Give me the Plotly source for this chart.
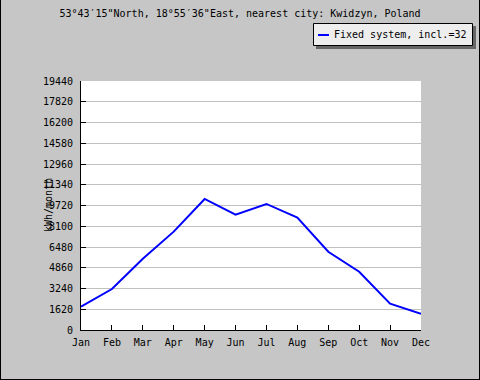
import plotly.graph_objects as go

months = ["Jan", "Feb", "Mar", "Apr", "May", "Jun", "Jul", "Aug", "Sep", "Oct", "Nov", "Dec"]
energy = [1820, 3200, 5560, 7680, 10230, 9000, 9840, 8770, 6110, 4550, 2060, 1270]
y_ticks = [0, 1620, 3240, 4860, 6480, 8100, 9720, 11340, 12960, 14580, 16200, 17820, 19440]
series_name = "Fixed system, incl.=32"
title_text = "53°43′15\"North, 18°55′36\"East, nearest city: Kwidzyn, Poland"

FONT = "DejaVu Sans Mono"
BG = "#c6c6c6"
LINE_COLOR = "#0000ff"

# plot area in pixels
L, R, T, B = 81, 421, 81, 330
W, H = R - L, B - T


def px(x):
    return (x - L) / W


def py(y):
    return (B - y) / H


fig = go.Figure()
fig.add_trace(go.Scatter(x=list(range(12)), y=energy, mode="lines", name=series_name,
                         line=dict(color=LINE_COLOR, width=2), showlegend=False))

fig.update_layout(
    width=480, height=380,
    margin=dict(l=L, r=480 - R, t=T, b=380 - B, autoexpand=False),
    paper_bgcolor=BG, plot_bgcolor="white",
    font=dict(family=FONT, size=10, color="black"),
    title=dict(text=title_text, x=0.5, xanchor="center", y=1 - 13 / 380, yanchor="middle",
               font=dict(family=FONT, size=10, color="black")),
    showlegend=False,
    xaxis=dict(range=[0, 11], tickmode="array", tickvals=list(range(12)), ticktext=months,
               ticks="inside", ticklen=5, tickcolor="black", showgrid=False, automargin=False,
               ticklabelstandoff=3,
               showline=True, linecolor="black", linewidth=1, zeroline=False, fixedrange=True),
    yaxis=dict(range=[0, 19440], tickmode="array", tickvals=y_ticks,
               ticktext=[str(v) for v in y_ticks], automargin=False,
               ticklabelstandoff=5,
               ticks="inside", ticklen=5, tickcolor="black", showgrid=True, gridcolor="#c0c0c0",
               showline=True, linecolor="black", linewidth=1, zeroline=False, fixedrange=True),
    annotations=[
        dict(text="kWh/month", xref="paper", yref="paper", x=px(48), y=py(205), textangle=-90,
             showarrow=False, xanchor="center", yanchor="middle",
             font=dict(family=FONT, size=10, color="black")),
        dict(text=series_name, xref="paper", yref="paper", x=px(332), y=py(34.5),
             showarrow=False, xanchor="left", yanchor="middle", xshift=0,
             font=dict(family=FONT, size=10, color="black")),
    ],
    shapes=[
        # legend shadow, box and line sample
        dict(type="rect", xref="paper", yref="paper", x0=px(316), x1=px(476),
             y0=py(49), y1=py(26), fillcolor="#666666", line=dict(width=0), layer="above"),
        dict(type="rect", xref="paper", yref="paper", x0=px(313.5), x1=px(472.5),
             y0=py(45.5), y1=py(23.5), fillcolor="#eeeeee", line=dict(color="black", width=1),
             layer="above"),
        dict(type="line", xref="paper", yref="paper", x0=px(318), x1=px(329),
             y0=py(35), y1=py(35), line=dict(color=LINE_COLOR, width=2), layer="above"),
        # outer border
        dict(type="line", xref="paper", yref="paper", x0=px(0.5), x1=px(0.5), y0=py(0), y1=py(380),
             line=dict(color="black", width=1)),
        dict(type="line", xref="paper", yref="paper", x0=px(479.5), x1=px(479.5), y0=py(0), y1=py(380),
             line=dict(color="black", width=1)),
        dict(type="line", xref="paper", yref="paper", x0=px(0), x1=px(480), y0=py(379.5), y1=py(379.5),
             line=dict(color="black", width=1)),
    ],
)

fig.write_html("out.html", config={"displayModeBar": False},
               post_script="document.body.style.margin='0';document.body.style.overflow='hidden';")
